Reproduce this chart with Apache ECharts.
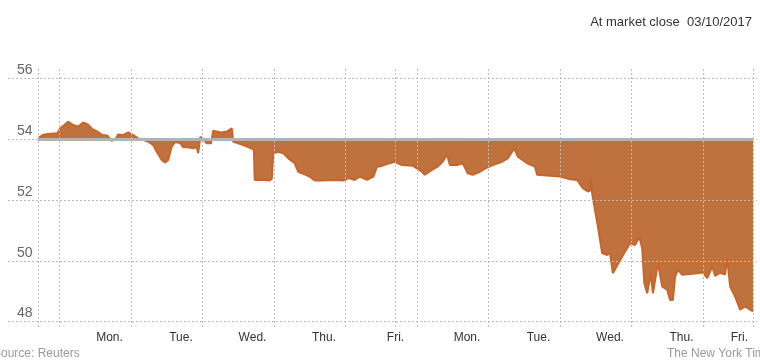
<!DOCTYPE html>
<html>
<head>
<meta charset="utf-8">
<script src="https://cdn.jsdelivr.net/npm/echarts@6/dist/echarts.min.js"></script>
<style>
html,body{margin:0;padding:0;background:#fff;}
#chart{width:760px;height:360px;}
</style>
</head>
<body>
<div id="chart"></div>
<script>
// Time in trading days since start of window; price in dollars
const tradingDay = [0,0.07,0.17,0.27,0.31,0.36,0.42,0.49,0.56,0.63,0.69,0.76,0.83,0.9,0.97,1.03,1.08,1.12,1.19,1.26,1.33,1.4,1.47,1.54,1.61,1.66,1.73,1.78,1.82,1.87,1.92,1.99,2.03,2.1,2.17,2.22,2.24,2.27,2.31,2.36,2.42,2.45,2.55,2.64,2.71,2.73,2.8,2.87,2.94,3.01,3.02,3.03,3.15,3.24,3.27,3.29,3.36,3.43,3.5,3.59,3.64,3.71,3.8,3.87,3.99,4.13,4.27,4.34,4.43,4.5,4.6,4.69,4.74,4.78,4.88,4.99,5.09,5.24,5.37,5.41,5.51,5.59,5.66,5.72,5.76,5.86,5.94,6.01,6.08,6.18,6.28,6.36,6.49,6.57,6.66,6.71,6.84,6.95,6.98,7.16,7.3,7.44,7.54,7.62,7.69,7.72,7.73,7.75,7.79,7.83,7.89,7.96,8.0,8.04,8.17,8.28,8.35,8.41,8.45,8.48,8.52,8.57,8.6,8.67,8.73,8.8,8.84,8.88,8.91,8.95,9.01,9.16,9.3,9.36,9.43,9.47,9.54,9.61,9.64,9.68,9.75,9.82,9.89,9.96,10.0];
const price = [54.03,54.15,54.18,54.2,54.36,54.45,54.58,54.47,54.41,54.55,54.5,54.33,54.25,54.14,54.12,53.95,53.98,54.16,54.14,54.23,54.14,54.03,53.98,53.92,53.81,53.59,53.32,53.23,53.32,53.76,53.92,53.87,53.74,53.74,53.7,53.74,53.54,54.08,54.0,53.87,53.87,54.28,54.22,54.25,54.36,53.92,53.87,53.81,53.74,53.67,53.6,52.66,52.66,52.64,52.7,53.54,53.59,53.54,53.37,53.21,52.93,52.86,52.77,52.64,52.64,52.66,52.64,52.72,52.66,52.77,52.66,52.77,53.1,53.1,53.18,53.26,53.15,53.13,52.93,52.83,52.99,53.1,53.26,53.5,53.15,53.15,53.21,52.88,52.83,52.93,53.07,53.15,53.26,53.37,53.7,53.43,53.21,53.1,52.83,52.8,52.77,52.68,52.66,52.39,52.28,52.3,52.77,52.22,51.67,51.13,50.25,50.19,50.25,49.59,50.14,50.58,50.52,50.78,50.41,49.26,48.93,49.59,48.93,49.92,49.15,49.05,48.71,48.71,49.48,49.7,49.54,49.57,49.61,49.43,49.81,49.5,49.6,49.55,50.08,49.15,48.82,48.39,48.5,48.39,48.33];
const baseline = 54;
const yTicks = [48, 50, 52, 54, 56];
const dayLabels = ['Mon.','Tue.','Wed.','Thu.','Fri.','Mon.','Tue.','Wed.','Thu.','Fri.'];
const dayLines = [0, 0.3, 1.3, 2.3, 3.3, 4.3, 5, 5.3, 6.3, 7.3, 8.3, 9.3, 10];

const labelPos = [1, 2, 3, 4, 5, 6, 7, 8, 9, 9.81];
const gridStyle = {color: '#bbbbbb', width: 1, type: [2, 2]};

const chart = echarts.init(document.getElementById('chart'));
chart.setOption({
  animation: false,
  backgroundColor: '#ffffff',
  textStyle: {fontFamily: 'Liberation Sans, Arial, sans-serif'},
  graphic: [
    {type: 'text', right: 8, top: 16, style: {text: 'At market close  03/10/2017', fill: '#333', font: '13px Liberation Sans, Arial, sans-serif'}},
    {type: 'text', left: -7, top: 348, style: {text: 'Source: Reuters', fill: '#999', font: '12px Liberation Sans, Arial, sans-serif'}},
    {type: 'text', left: 667, top: 348, style: {text: 'The New York Times', fill: '#999', font: '12px Liberation Sans, Arial, sans-serif'}}
  ],
  grid: {left: 8, right: 3, top: 68, bottom: 33},
  xAxis: {
    type: 'value', min: -0.42, max: 10.056,
    axisLine: {show: false}, axisTick: {show: false}, splitLine: {show: false},
    axisLabel: {
      customValues: labelPos,
      formatter: function (v) {
        const i = labelPos.indexOf(v);
        return i >= 0 ? dayLabels[i] : '';
      },
      color: '#333', fontSize: 12, margin: 5
    }
  },
  yAxis: {
    type: 'value', min: 47.819, max: 56.346,
    axisLine: {show: false}, axisTick: {show: false}, splitLine: {show: false},
    axisLabel: {
      customValues: yTicks, inside: true, margin: 9,
      color: '#666', fontSize: 14, verticalAlign: 'bottom', padding: [0, 0, 1, 0]
    }
  },
  series: [{
    type: 'line',
    data: tradingDay.map((d, i) => [d, price[i]]),
    showSymbol: false,
    lineStyle: {color: '#c9652b', width: 2},
    areaStyle: {origin: baseline, color: '#c0723e', opacity: 1},
    markLine: {
      silent: true, symbol: 'none', label: {show: false},
      data: yTicks.map(v => ({yAxis: v, lineStyle: gridStyle}))
        .concat(dayLines.map(v => ({xAxis: v, lineStyle: gridStyle})))
        .concat([[{coord: [0, baseline], lineStyle: {color: '#b3b3b3', width: 3, type: 'solid'}}, {coord: [10, baseline]}]])
    }
  }]
});
</script>
</body>
</html>
